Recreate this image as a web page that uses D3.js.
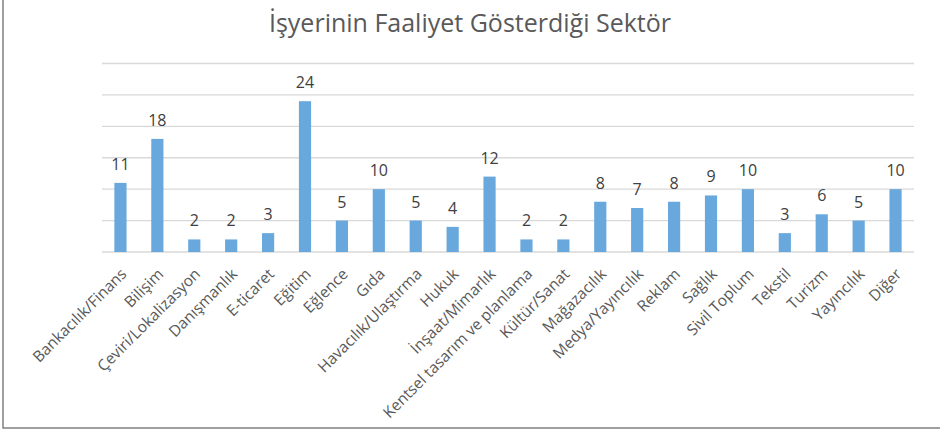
<!DOCTYPE html>
<html>
<head>
<meta charset="utf-8">
<script src="https://cdn.jsdelivr.net/npm/d3@7"></script>
<style>
  body { margin: 0; background: #fff; }
  svg { display: block; font-family: "Open Sans", sans-serif; }
</style>
</head>
<body>
<svg id="chart" width="940" height="433"></svg>
<script>
// data
var title = "İşyerinin Faaliyet Gösterdiği Sektör"
var sectors = ["Bankacılık/Finans", "Bilişim", "Çeviri/Lokalizasyon", "Danışmanlık", "E-ticaret",
  "Eğitim", "Eğlence", "Gıda", "Havacılık/Ulaştırma", "Hukuk", "İnşaat/Mimarlık",
  "Kentsel tasarım ve planlama", "Kültür/Sanat", "Mağazacılık", "Medya/Yayıncılık",
  "Reklam", "Sağlık", "Sivil Toplum", "Tekstil", "Turizm", "Yayıncılık", "Diğer"]
var counts = [11, 18, 2, 2, 3, 24, 5, 10, 5, 4, 12, 2, 2, 8, 7, 8, 9, 10, 3, 6, 5, 10]
var gridTicks = [0, 5, 10, 15, 20, 25, 30]

var svg = d3.select("#chart")
var width = +svg.attr("width"),
    height = +svg.attr("height")

// outer frame (left + bottom only visible)
svg.append("path")
  .attr("d", "M3,0 V428 H" + width)
  .attr("fill", "none")
  .attr("stroke", "#808080")
  .attr("stroke-width", 1.5)

svg.append("text")
  .attr("x", 470)
  .attr("y", 32)
  .attr("text-anchor", "middle")
  .attr("fill", "#595959")
  .style("font-size", "25px")
  .text(title)

var x = d3.scaleBand()
  .domain(sectors)
  .range([102, 914])
  .paddingInner(0.67)
  .paddingOuter(0.335)

var y = d3.scaleLinear()
  .domain([0, 30])
  .range([252, 63.5])

// gridlines
svg.append("g")
  .selectAll("line")
  .data(gridTicks)
  .enter().append("line")
  .attr("x1", 102)
  .attr("x2", 914)
  .attr("y1", function(d) { return y(d); })
  .attr("y2", function(d) { return y(d); })
  .attr("stroke", "#d9d9d9")
  .attr("stroke-width", 1.3)

// bars
svg.append("g")
  .selectAll("rect")
  .data(counts)
  .enter().append("rect")
  .attr("x", function(d, i) { return x(sectors[i]); })
  .attr("width", x.bandwidth())
  .attr("y", function(d) { return y(d); })
  .attr("height", function(d) { return y(0) - y(d); })
  .attr("fill", "#68a8dd")

// value labels
svg.append("g")
  .selectAll("text")
  .data(counts)
  .enter().append("text")
  .attr("x", function(d, i) { return x(sectors[i]) + x.bandwidth() / 2; })
  .attr("y", function(d) { return y(d) - 13; })
  .attr("text-anchor", "middle")
  .attr("fill", "#404040")
  .style("font-size", "16px")
  .text(function(d) { return d; })

// category labels, rotated
svg.append("g")
  .selectAll("text")
  .data(sectors)
  .enter().append("text")
  .attr("transform", function(d) {
    return "translate(" + (x(d) + x.bandwidth() / 2 + 7) + ",275)rotate(-45)"
  })
  .attr("text-anchor", "end")
  .attr("fill", "#595959")
  .style("font-size", "15.5px")
  .text(function(d) { return d; })
</script>
</body>
</html>
